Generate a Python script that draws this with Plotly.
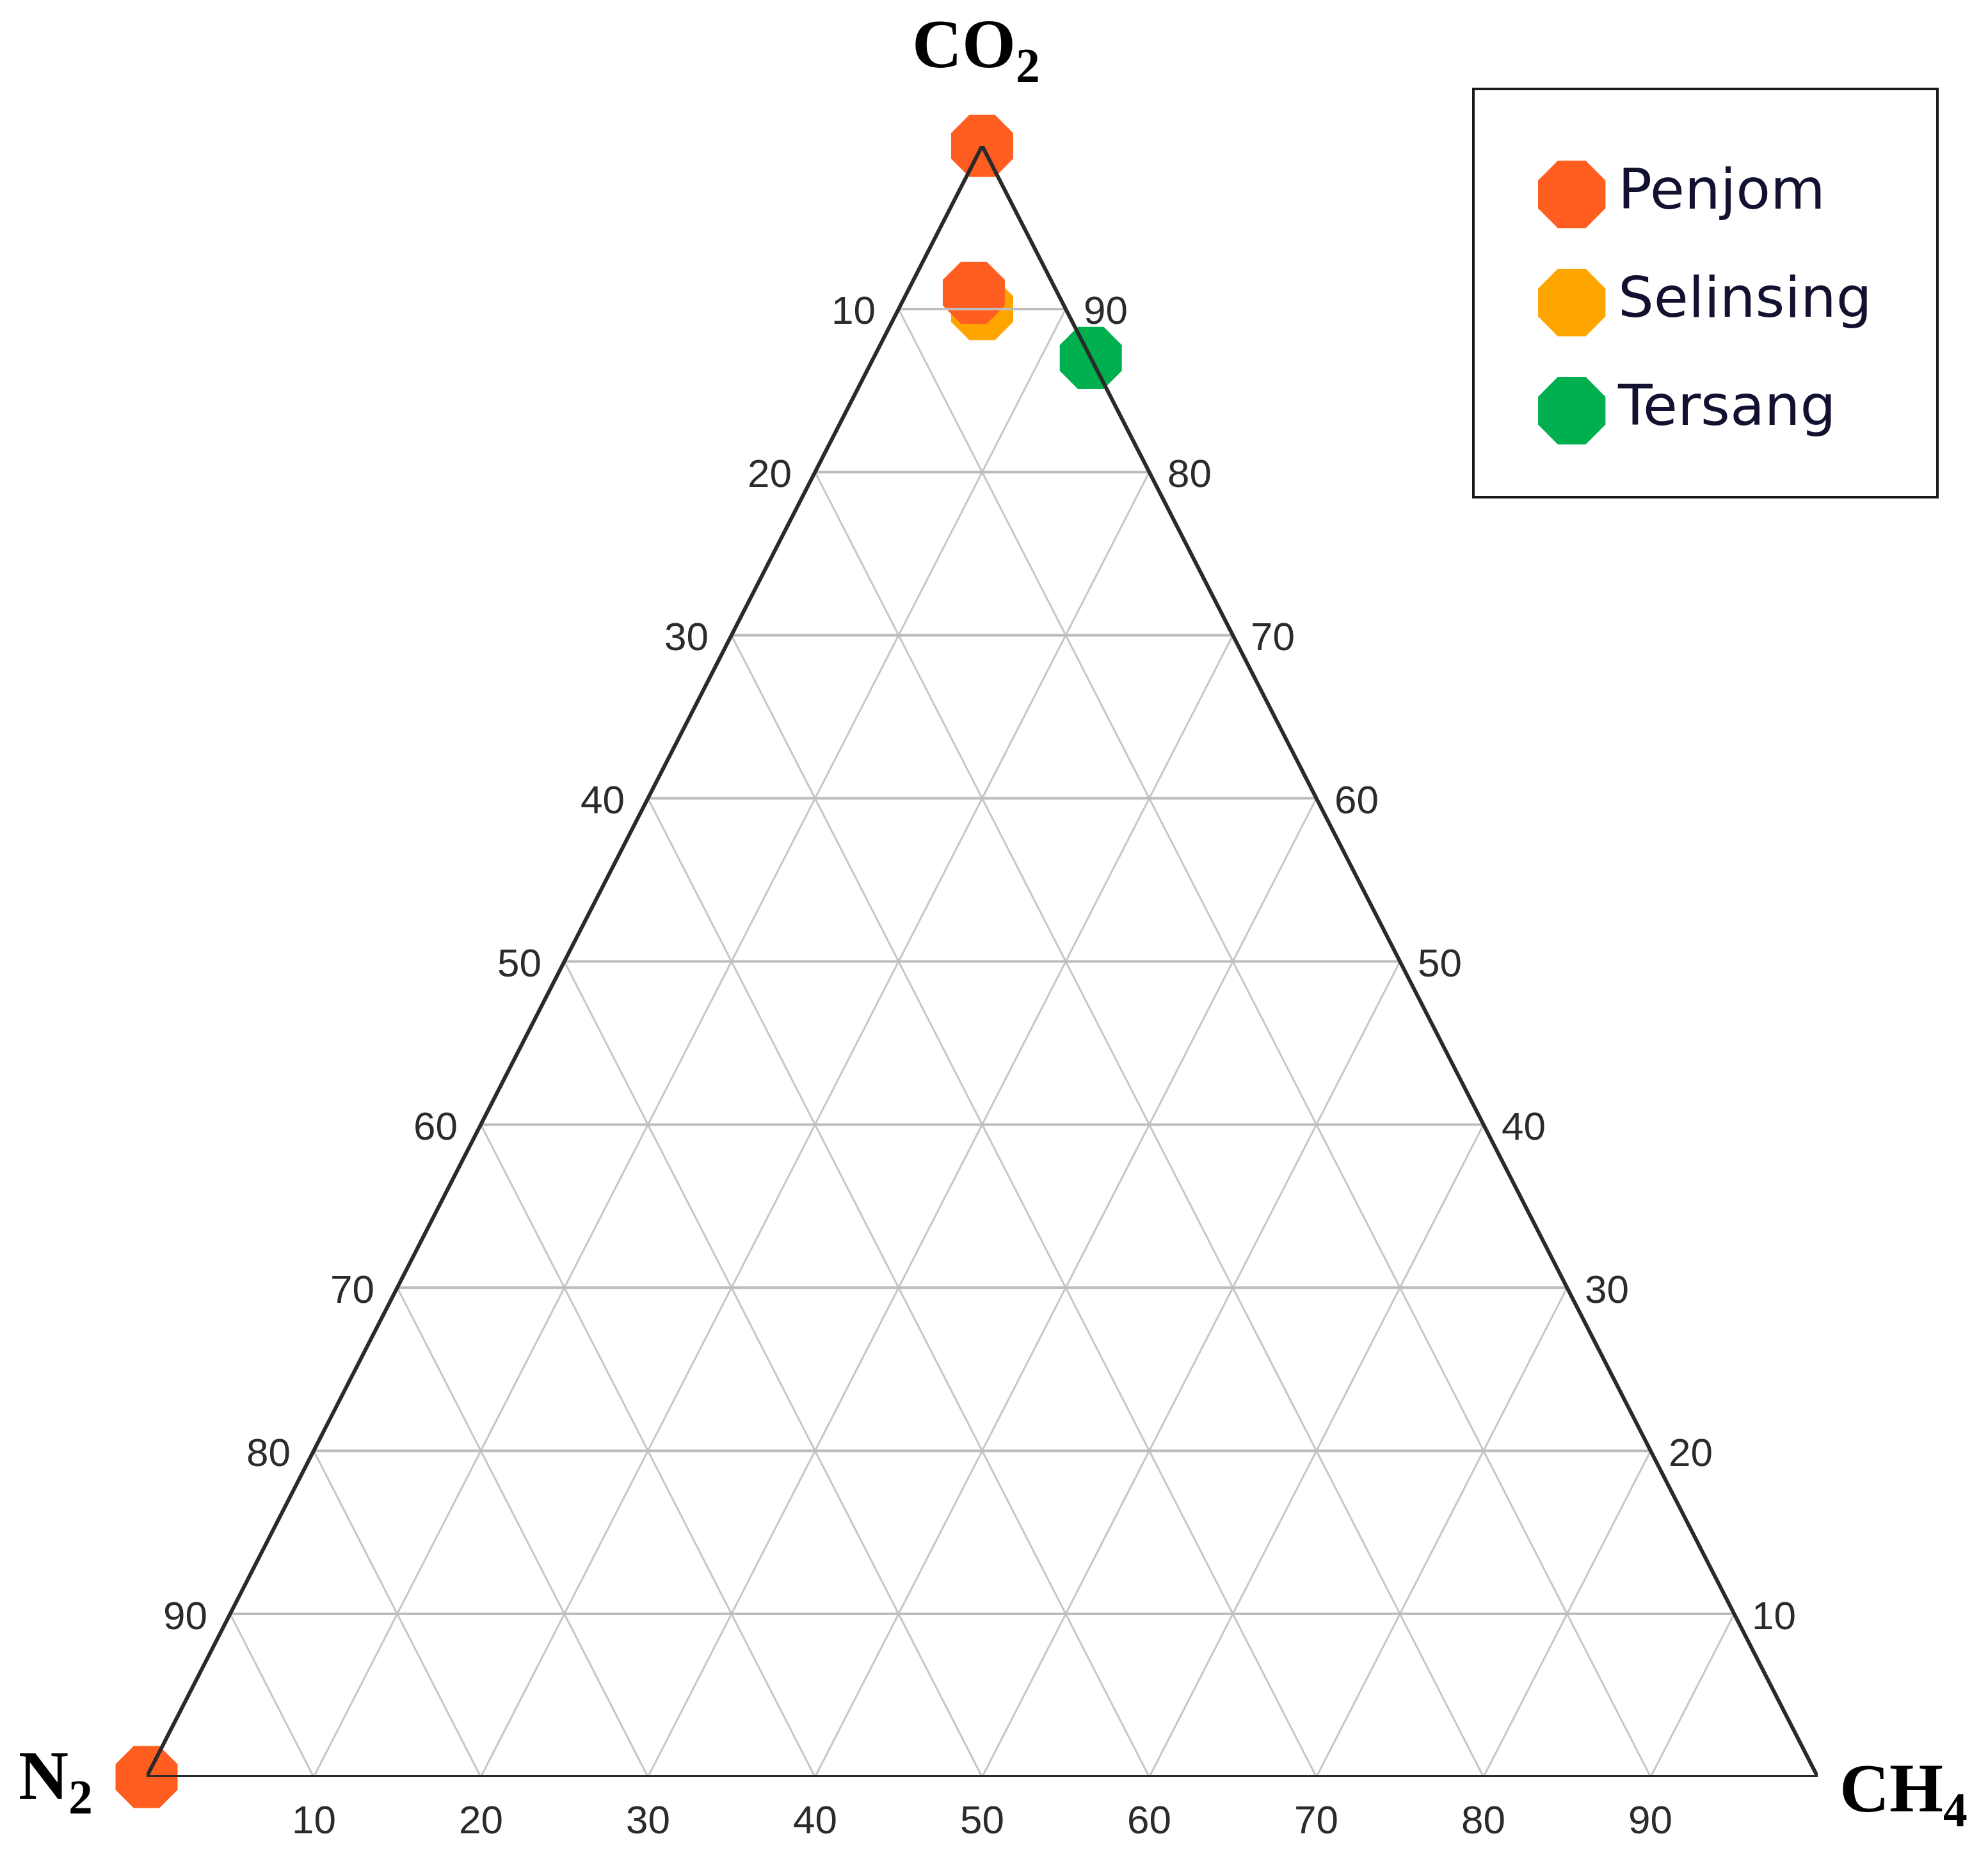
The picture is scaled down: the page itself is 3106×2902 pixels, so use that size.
import plotly.graph_objects as go

# Composição dos gases (%): CO2, N2, CH4
series_names = ['Penjom', 'Selinsing', 'Tersang']
series_colors = ['#FF5E20', '#FFA500', '#00B04F']

penjom_co2 = [100, 91, 0]
penjom_n2 = [0, 5, 100]
penjom_ch4 = [0, 4, 0]

selinsing_co2 = [90]
selinsing_n2 = [5]
selinsing_ch4 = [5]

tersang_co2 = [87]
tersang_n2 = [0]
tersang_ch4 = [13]

grid_vals = [10, 20, 30, 40, 50, 60, 70, 80, 90]

# a página tem margem de 8px no body; a figura é reduzida para caber
OFF = 8
W, H = 3106 - 2 * OFF, 2902 - 2 * OFF
# posição do triângulo na página (px da captura)
X_LEFT, X_RIGHT, Y_TOP, Y_BOTTOM = 229, 2840, 228, 2777


def px_x(v):
    return (v - OFF) / W


def px_y(v):
    return (H - (v - OFF)) / H


def to_xy(a, b, c):
    # a = topo (CO2), b = esquerda (N2), c = direita (CH4)
    s = a + b + c
    return (c + a / 2) / s, a / s


def pontos(co2, n2, ch4):
    xy = [to_xy(a, b, c) for a, b, c in zip(co2, n2, ch4)]
    return [p[0] for p in xy], [p[1] for p in xy]


fig = go.Figure()

# Pontos (desenhados primeiro para ficarem sob a grade, como no original)
dados = {
    'Penjom': (penjom_co2, penjom_n2, penjom_ch4),
    'Selinsing': (selinsing_co2, selinsing_n2, selinsing_ch4),
    'Tersang': (tersang_co2, tersang_n2, tersang_ch4),
}
ordem_desenho = ['Selinsing', 'Tersang', 'Penjom']
for nome in ordem_desenho:
    cor = series_colors[series_names.index(nome)]
    xs, ys = pontos(*dados[nome])
    fig.add_trace(go.Scatter(
        x=xs, y=ys, mode='markers', name=nome, showlegend=False,
        marker=dict(symbol='octagon', size=105, color=cor, line=dict(width=0)),
        cliponaxis=False, hoverinfo='skip'
    ))

# Grade
hx, hy, dx, dy = [], [], [], []
for t in grid_vals:
    for p, q, tipo in [
        ((t, 100 - t, 0), (t, 0, 100 - t), 'h'),
        ((0, t, 100 - t), (100 - t, t, 0), 'd'),
        ((0, 100 - t, t), (100 - t, 0, t), 'd'),
    ]:
        x0, y0 = to_xy(*p)
        x1, y1 = to_xy(*q)
        if tipo == 'h':
            hx += [x0, x1, None]
            hy += [y0, y1, None]
        else:
            dx += [x0, x1, None]
            dy += [y0, y1, None]

fig.add_trace(go.Scatter(x=dx, y=dy, mode='lines', showlegend=False, hoverinfo='skip',
                         line=dict(color='#c6c6c6', width=3)))
fig.add_trace(go.Scatter(x=hx, y=hy, mode='lines', showlegend=False, hoverinfo='skip',
                         line=dict(color='#bdbdbd', width=4)))

# Contorno do triângulo
cantos = [(100, 0, 0), (0, 100, 0), (0, 0, 100), (100, 0, 0)]
tx = [to_xy(*c)[0] for c in cantos]
ty = [to_xy(*c)[1] for c in cantos]
fig.add_trace(go.Scatter(x=tx, y=ty, mode='lines', showlegend=False, hoverinfo='skip',
                         cliponaxis=False, line=dict(color='#2a2a2a', width=6)))

# Rótulos dos eixos
fonte_tick = dict(family='Liberation Sans, Arial', size=62, color='#2b2b2b')
anotacoes = []
for t in grid_vals:
    x, y = to_xy(t, 100 - t, 0)
    anotacoes.append(dict(x=x, y=y, text=str(100 - t), xanchor='right', yanchor='middle',
                          xshift=-34, yshift=-2, showarrow=False, font=fonte_tick))
    x, y = to_xy(t, 0, 100 - t)
    anotacoes.append(dict(x=x, y=y, text=str(t), xanchor='left', yanchor='middle',
                          xshift=26, yshift=-2, showarrow=False, font=fonte_tick))
    x, y = to_xy(0, 100 - t, t)
    anotacoes.append(dict(x=x, y=y, text=str(t), xanchor='center', yanchor='top',
                          yshift=-30, showarrow=False, font=fonte_tick))

fonte_titulo = dict(family='Liberation Serif, Times New Roman', size=108, color='black')
x, y = to_xy(100, 0, 0)
anotacoes.append(dict(x=x, y=y, text='<b>CO<sub>2</sub></b>', xanchor='center', yanchor='middle',
                      xshift=-10, yshift=152, showarrow=False, font=fonte_titulo))
x, y = to_xy(0, 100, 0)
anotacoes.append(dict(x=x, y=y, text='<b>N<sub>2</sub></b>', xanchor='center', yanchor='middle',
                      xshift=-142, yshift=-5, showarrow=False, font=fonte_titulo))
x, y = to_xy(0, 0, 100)
anotacoes.append(dict(x=x, y=y, text='<b>CH<sub>4</sub></b>', xanchor='center', yanchor='middle',
                      xshift=134, yshift=-25, showarrow=False, font=fonte_titulo))

# Legenda desenhada em eixos auxiliares
fig.add_trace(go.Scatter(
    x=[0] * len(series_names), y=list(range(len(series_names))),
    xaxis='x2', yaxis='y2', mode='markers+text',
    text=series_names, textposition='middle right',
    textfont=dict(family='DejaVu Sans, Verdana', size=88, color='#121230'),
    marker=dict(symbol='octagon', size=114, color=series_colors, line=dict(width=0)),
    showlegend=False, hoverinfo='skip', cliponaxis=False
))

LEG_X0, LEG_X1, LEG_Y0, LEG_Y1 = 2302, 3027, 139, 777
leg_dom_x = [px_x(LEG_X0), px_x(LEG_X1)]
leg_dom_y = [px_y(LEG_Y1), px_y(LEG_Y0)]

fig.update_layout(
    width=W, height=H,
    margin=dict(l=0, r=0, t=0, b=0, autoexpand=False),
    paper_bgcolor='white', plot_bgcolor='rgba(0,0,0,0)',
    showlegend=False,
    xaxis=dict(domain=[px_x(X_LEFT), px_x(X_RIGHT)], range=[0, 1], visible=False, fixedrange=True),
    yaxis=dict(domain=[px_y(Y_BOTTOM), px_y(Y_TOP)], range=[0, 1], visible=False, fixedrange=True),
    xaxis2=dict(domain=leg_dom_x, range=[-0.212, 0.788], visible=False, anchor='y2'),
    yaxis2=dict(domain=leg_dom_y, range=[2.8, -0.975], visible=False, anchor='x2'),
    annotations=anotacoes,
    shapes=[dict(type='rect', xref='paper', yref='paper',
                 x0=leg_dom_x[0], x1=leg_dom_x[1], y0=leg_dom_y[0], y1=leg_dom_y[1],
                 line=dict(color='#1a1a1a', width=4), fillcolor='rgba(0,0,0,0)')],
)

fig.write_html("out.html")
